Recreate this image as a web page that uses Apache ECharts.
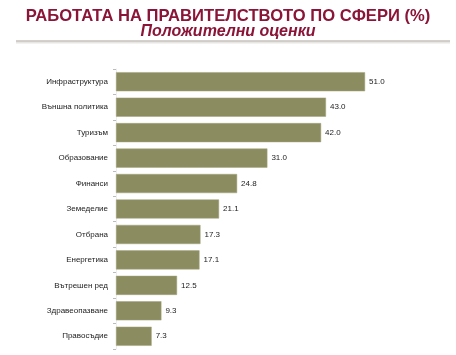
<!DOCTYPE html>
<html>
<head>
<meta charset="utf-8">
<script src="https://cdn.jsdelivr.net/npm/echarts@6/dist/echarts.min.js"></script>
<style>
html,body{margin:0;padding:0;background:#fff;}
#c{width:456px;height:355px;}
</style>
</head>
<body>
<div id="c"></div>
<script>
const categories = ['Инфраструктура','Външна политика','Туризъм','Образование','Финанси','Земеделие','Отбрана','Енергетика','Вътрешен ред','Здравеопазване','Правосъдие'];
const values = [51.0, 43.0, 42.0, 31.0, 24.8, 21.1, 17.3, 17.1, 12.5, 9.3, 7.3];
const titleText = 'РАБОТАТА НА ПРАВИТЕЛСТВОТО ПО СФЕРИ (%)';
const subtitleText = 'Положителни оценки';

const chart = echarts.init(document.getElementById('c'), null, {renderer:'canvas'});
const font = '"Liberation Sans", Arial, sans-serif';
chart.setOption({
  animation:false,
  backgroundColor:'#ffffff',
  title:[
    {text:titleText, left:'center', top:3, textStyle:{fontFamily:'"Liberation Sans", Arial, sans-serif', fontWeight:'bold', fontSize:16.6, color:'#8a1538'}},
    {text:subtitleText, left:'center', top:19, textStyle:{fontFamily:'"Liberation Sans", Arial, sans-serif', fontWeight:'bold', fontStyle:'italic', fontSize:16, color:'#8a1538'}}
  ],
  graphic:[
    {type:'line', shape:{x1:16,y1:42,x2:450,y2:42}, style:{stroke:'#e8e6e3', lineWidth:3}},
    {type:'line', shape:{x1:16,y1:41,x2:450,y2:41}, style:{stroke:'#c9c5c0', lineWidth:1.5}}
  ],
  grid:{left:116, right:47, top:69, bottom:6},
  xAxis:{type:'value', min:0, max:60, show:false},
  yAxis:{type:'category', data:categories, inverse:true,
    axisLine:{show:true, lineStyle:{color:'#eeeeee', width:1}},
    axisTick:{show:true, length:3, lineStyle:{color:'#bbbbbb'}},
    axisLabel:{fontFamily:font, fontSize:8, color:'#222', margin:8}
  },
  series:[{
    type:'bar', data:values, barCategoryGap:'25%',
    itemStyle:{color:'#8b8c5f', borderColor:'#a3a47c', borderWidth:0.5},
    label:{show:true, position:'right', distance:4, fontFamily:font, fontSize:8, color:'#222',
      formatter:p=>p.value.toFixed(1)}
  }]
});
</script>
</body>
</html>
